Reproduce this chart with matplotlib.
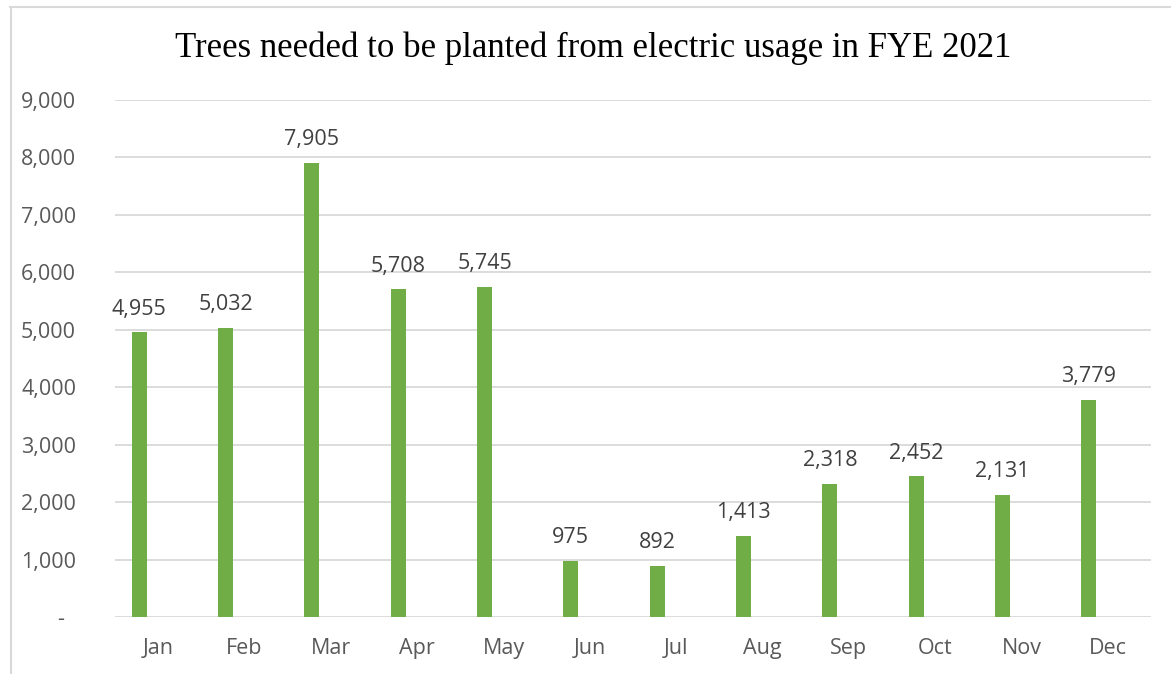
import matplotlib.pyplot as plt
from matplotlib.lines import Line2D
import numpy as np

months = ["Jan", "Feb", "Mar", "Apr", "May", "Jun",
          "Jul", "Aug", "Sep", "Oct", "Nov", "Dec"]
trees = [4955, 5032, 7905, 5708, 5745, 975, 892, 1413, 2318, 2452, 2131, 3779]
yticks = [0, 1000, 2000, 3000, 4000, 5000, 6000, 7000, 8000, 9000]

W, H = 1171, 674
fig = plt.figure(figsize=(W / 100, H / 100), dpi=100)
ax = fig.add_axes([115 / W, 1 - 617 / H, (1151 - 115) / W, (617 - 100) / H])

x = np.arange(len(months))
bars = ax.bar(x - 0.22, trees, width=0.175, color="#70AD47", zorder=3)

ax.set_xlim(-0.5, len(months) - 0.5)
ax.set_ylim(0, 9000)
ax.set_yticks(yticks)
ax.set_yticklabels(["-  " if v == 0 else f"{v:,}" for v in yticks])
ax.set_xticks(x)
ax.set_xticklabels(months)

ax.grid(axis="y", color="#D9D9D9", linewidth=1.3, zorder=0)
for s in ["top", "right", "left", "bottom"]:
    ax.spines[s].set_visible(False)
ax.tick_params(axis="both", length=0, labelsize=15.5, labelcolor="#595959")
ax.tick_params(axis="y", pad=28)
ax.tick_params(axis="x", pad=15)
for lab in ax.get_xticklabels() + ax.get_yticklabels():
    lab.set_fontfamily("Open Sans")

for b, v in zip(bars, trees):
    ax.annotate(f"{v:,}", (b.get_x() + b.get_width() / 2, v),
                xytext=(0, 9), textcoords="offset points",
                ha="center", va="bottom", fontsize=15.5,
                color="#404040", family="Open Sans")

fig.text(593 / W, 1 - 48 / H, "Trees needed to be planted from electric usage in FYE 2021",
         ha="center", va="center", fontsize=25, family="Liberation Serif", color="black")

# chart border (only top and left visible in the crop)
fig.add_artist(Line2D([10 / W, 1], [1 - 6.5 / H, 1 - 6.5 / H],
                      transform=fig.transFigure, color="#D9D9D9", linewidth=1.5))
fig.add_artist(Line2D([10.5 / W, 10.5 / W], [0, 1 - 6.5 / H],
                      transform=fig.transFigure, color="#D9D9D9", linewidth=1.5))

fig.savefig("out.png", dpi=100)
